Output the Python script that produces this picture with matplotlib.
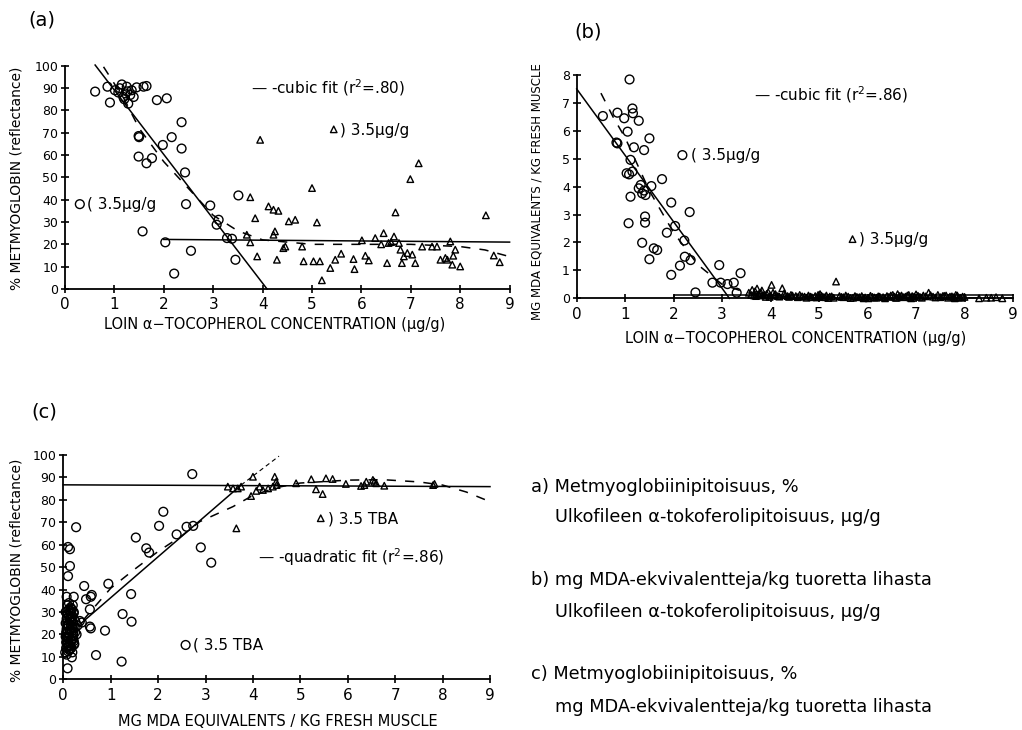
import matplotlib
matplotlib.use("Agg")
import matplotlib.pyplot as plt
import numpy as np

plt.rcParams['font.family'] = ['DejaVu Sans']

# ---------------- Panel (a): % metmyoglobin vs loin alpha-tocopherol ----------------
a_circ_x = [0.61, 0.86, 0.91, 1.15, 1.01, 1.25, 1.35, 1.45, 1.59, 1.65, 1.39, 1.28, 1.18, 1.08,
            1.22, 1.32, 1.11, 1.20, 1.26, 1.86, 2.06, 2.36, 2.16, 1.98, 2.36, 2.43, 1.49, 1.50,
            1.49, 1.65, 1.76, 1.57, 2.03, 2.21, 2.55, 2.45, 2.94, 3.11, 3.07, 3.28, 3.38, 3.51, 3.45]
a_circ_y = [88.4, 90.6, 83.5, 91.6, 89.0, 90.6, 89.0, 90.3, 90.6, 90.9, 86.0, 83.0, 86.0, 88.0,
            87.6, 86.9, 89.9, 85.0, 88.5, 84.6, 85.4, 74.7, 68.0, 64.5, 62.9, 52.2, 68.5, 68.0,
            59.3, 56.3, 58.6, 25.8, 20.9, 6.9, 17.1, 38.0, 37.4, 31.0, 28.8, 22.8, 22.5, 41.9, 13.1]
a_tri_x = [3.95, 3.75, 3.85, 3.68, 3.75, 3.89, 4.12, 4.22, 4.32, 4.22, 4.25, 4.29, 4.42, 4.46,
           4.53, 4.66, 4.80, 4.83, 5.00, 5.03, 5.16, 5.10, 5.20, 5.37, 5.47, 5.59, 5.84, 5.86,
           6.01, 6.08, 6.15, 6.28, 6.45, 6.52, 6.55, 6.66, 6.69, 6.76, 6.79, 6.82, 6.86, 6.93,
           6.99, 7.03, 7.09, 7.16, 7.23, 7.43, 7.53, 7.60, 7.70, 7.74, 7.80, 7.86, 7.90, 7.84,
           8.00, 8.52, 8.68, 8.80, 6.40, 6.60]
a_tri_y = [66.8, 41.1, 31.7, 24.3, 20.9, 14.6, 37.0, 35.5, 35.0, 24.3, 25.8, 13.1, 18.3, 19.0,
           30.3, 31.0, 19.0, 12.4, 45.2, 12.4, 12.4, 29.8, 3.9, 9.4, 13.1, 15.8, 13.4, 8.9,
           21.8, 14.9, 12.8, 22.8, 25.0, 11.6, 20.6, 23.5, 34.3, 20.6, 17.6, 11.6, 14.6, 16.1,
           49.2, 15.4, 11.6, 56.3, 19.0, 19.0, 19.0, 13.1, 13.9, 13.1, 21.3, 14.9, 17.6, 10.9,
           10.1, 33.0, 15.0, 12.0, 20.0, 21.0]
a_lin_x = [0.61, 4.09]
a_lin_y = [100.3, 0.0]
a_flat_x = [2.0, 9.0]
a_flat_y = [22.2, 21.0]
a_cub_x = [0.78, 1.2, 1.5, 2.0, 2.5, 3.0, 3.5, 4.0, 5.0, 6.0, 7.0, 8.0, 8.5, 9.0]
a_cub_y = [99.5, 85.0, 72.0, 57.0, 45.0, 33.0, 26.0, 22.0, 20.0, 20.0, 20.0, 19.0, 17.5, 14.5]

# ---------------- Panel (b): MDA vs loin alpha-tocopherol ----------------
b_circ_x = [0.54, 0.84, 0.98, 1.05, 0.82, 0.84, 1.09, 1.15, 1.16, 1.28, 1.18, 1.39, 1.50, 1.11,
            1.03, 1.08, 1.15, 1.32, 1.39, 1.42, 1.35, 1.28, 1.54, 1.11, 1.76, 1.07, 1.41, 1.41,
            1.35, 1.59, 1.66, 1.50, 1.95, 2.33, 1.86, 2.03, 2.22, 2.23, 2.13, 2.35, 1.95, 2.45,
            2.94, 2.80, 2.97, 3.11, 3.24, 3.38, 3.30]
b_circ_y = [6.53, 6.65, 6.45, 5.97, 5.58, 5.55, 7.84, 6.80, 6.63, 6.36, 5.41, 5.31, 5.73, 4.96,
            4.48, 4.44, 4.54, 4.06, 3.86, 3.70, 3.76, 3.94, 4.02, 3.64, 4.27, 2.69, 2.93, 2.71,
            1.99, 1.79, 1.73, 1.40, 3.43, 3.09, 2.35, 2.59, 2.07, 1.49, 1.17, 1.37, 0.84, 0.21,
            1.19, 0.56, 0.56, 0.51, 0.56, 0.90, 0.20]
b_tri_x = [3.55, 3.62, 3.68, 3.72, 3.78, 3.82, 3.88, 3.95, 4.00, 4.02, 4.10, 4.15, 4.24, 4.30,
           4.38, 4.45, 4.52, 4.60, 4.70, 4.78, 4.85, 4.92, 4.98, 5.02, 5.08, 5.15, 5.22, 5.30,
           5.35, 5.42, 5.50, 5.60, 5.70, 5.78, 5.88, 5.95, 6.02, 6.10, 6.18, 6.25, 6.32, 6.40,
           6.48, 6.55, 6.62, 6.70, 6.78, 6.85, 6.92, 7.00, 7.08, 7.15, 7.26, 7.35, 7.45, 7.55,
           7.62, 7.70, 7.78, 7.85, 7.92, 8.00, 8.30, 8.55, 8.65, 8.78, 3.66, 3.75, 3.90, 4.05,
           5.00, 6.60, 6.90, 7.40, 7.80,
           3.60, 3.70, 3.80, 3.85, 3.92, 3.98, 4.08, 4.18, 4.28, 4.35, 4.42, 4.56, 4.65, 4.74,
           4.82, 4.95, 5.05, 5.12, 5.19, 5.26, 5.46, 5.55, 5.65, 5.74, 5.83, 5.92, 6.06, 6.14,
           6.22, 6.36, 6.44, 6.52, 6.58, 6.66, 6.74, 6.82, 6.88, 6.96, 7.04, 7.12, 7.20, 7.30,
           7.50, 7.58, 7.66, 7.74, 7.82, 7.88, 7.96, 8.45]
b_tri_y = [0.20, 0.30, 0.25, 0.35, 0.18, 0.28, 0.12, 0.22, 0.10, 0.48, 0.15, 0.08, 0.36, 0.12,
           0.05, 0.10, 0.08, 0.12, 0.06, 0.10, 0.04, 0.08, 0.12, 0.15, 0.05, 0.10, 0.06, 0.02,
           0.60, 0.08, 0.04, 0.06, 0.02, 0.05, 0.08, 0.03, 0.00, 0.05, 0.02, 0.06, 0.04, 0.08,
           0.10, 0.06, 0.15, 0.10, 0.06, 0.12, 0.08, 0.14, 0.05, 0.10, 0.20, 0.06, 0.12, 0.08,
           0.10, 0.06, 0.04, 0.10, 0.02, 0.05, 0.00, 0.02, 0.04, 0.00, 0.10, 0.15, 0.05, 0.20,
           0.05, 0.02, 0.00, 0.03, 0.00,
           0.12, 0.08, 0.20, 0.10, 0.16, 0.05, 0.12, 0.06, 0.18, 0.08, 0.12, 0.04, 0.07, 0.02,
           0.06, 0.03, 0.09, 0.04, 0.01, 0.07, 0.05, 0.10, 0.01, 0.08, 0.04, 0.00, 0.09, 0.03,
           0.07, 0.00, 0.05, 0.12, 0.02, 0.08, 0.04, 0.10, 0.03, 0.06, 0.09, 0.02, 0.07, 0.11,
           0.04, 0.09, 0.02, 0.07, 0.12, 0.03, 0.06, 0.02]
b_lin_x = [0.0, 3.15]
b_lin_y = [7.5, 0.0]
b_flat_x = [2.0, 2.0, 9.0]
b_flat_y = [0.0, 0.12, 0.12]
b_cub_x = [0.5, 0.75, 1.0, 1.5, 2.0, 2.5, 3.0, 3.5, 4.0, 5.0, 6.0, 7.0, 8.0, 9.0]
b_cub_y = [7.35, 6.5, 5.75, 3.85, 2.35, 1.2, 0.5, 0.2, 0.1, 0.05, 0.05, 0.05, 0.02, 0.0]

# ---------------- Panel (c): % metmyoglobin vs MDA ----------------
c_circ_x = [0.09, 0.10, 0.14, 0.14, 0.10, 0.27, 0.07, 0.22, 0.44, 0.48, 0.60, 0.58, 0.56, 0.56,
            0.58, 0.69, 0.88, 0.95, 1.23, 1.25, 1.44, 1.43, 1.53, 1.75, 1.81, 2.02, 2.11, 2.39,
            2.60, 2.74, 2.72, 2.90, 3.12, 0.18, 0.39,
            0.04, 0.06, 0.08, 0.10, 0.12, 0.14, 0.16, 0.18, 0.20, 0.22, 0.05, 0.07, 0.09, 0.11,
            0.13, 0.15, 0.17, 0.19, 0.21, 0.24, 0.06, 0.08, 0.10, 0.12, 0.14, 0.16, 0.18, 0.20,
            0.05, 0.09, 0.13, 0.17, 0.21, 0.25, 0.07, 0.11, 0.15, 0.19, 0.23, 0.28, 0.30, 0.35,
            0.06, 0.08, 0.10, 0.12, 0.14, 0.16, 0.18, 0.20, 0.22, 0.07, 0.09, 0.11, 0.13, 0.15,
            0.17, 0.19, 0.21, 0.23, 0.05, 0.10, 0.15, 0.20, 0.12, 0.17, 0.22, 0.25]
c_circ_y = [4.9, 59.0, 58.0, 50.5, 46.0, 67.8, 36.8, 36.8, 41.6, 35.7, 37.6, 36.8, 31.2, 23.5,
            22.7, 10.8, 21.7, 42.6, 7.9, 29.1, 25.7, 38.0, 63.2, 58.4, 56.5, 68.4, 74.7, 64.6,
            68.0, 68.4, 91.5, 58.8, 52.0, 9.8, 25.3,
            12.0, 14.0, 16.0, 18.0, 20.0, 22.0, 24.0, 26.0, 28.0, 30.0, 25.0, 27.0, 29.0, 31.0,
            13.0, 15.0, 17.0, 19.0, 21.0, 23.0, 21.0, 19.0, 17.0, 15.0, 27.0, 29.0, 31.0, 33.0,
            30.0, 33.0, 22.0, 14.0, 18.0, 26.0, 11.0, 24.0, 28.0, 12.0, 16.0, 20.0, 24.0, 26.0,
            16.5, 20.5, 24.5, 28.5, 13.5, 17.5, 21.5, 25.5, 29.5, 22.5, 18.5, 14.5, 26.5, 30.5,
            27.5, 23.5, 19.5, 15.5, 19.0, 12.5, 32.0, 23.0, 34.0, 31.5, 17.0, 21.0]
c_tri_x = [3.65, 3.47, 3.58, 3.68, 3.75, 4.00, 3.96, 4.07, 4.14, 4.21, 4.32, 4.42, 4.46, 4.49,
           4.50, 4.91, 5.23, 5.33, 5.47, 5.54, 5.68, 5.96, 6.28, 6.35, 6.39, 6.53, 6.56, 6.60,
           6.77, 7.80, 7.83]
c_tri_y = [67.3, 85.9, 85.1, 85.1, 85.9, 90.3, 81.7, 84.0, 85.9, 84.4, 85.1, 85.9, 90.3, 88.1,
           86.6, 87.4, 89.2, 84.7, 82.6, 89.6, 89.3, 87.1, 86.2, 86.6, 88.1, 88.9, 88.1, 87.4,
           86.3, 86.6, 87.1]
c_lin_x = [0.35, 3.75]
c_lin_y = [24.5, 86.6]
c_ext_x = [3.75, 4.55]
c_ext_y = [86.6, 99.5]
c_flat_x = [0.0, 9.0]
c_flat_y = [86.7, 85.9]
c_quad_x = [0.42, 1.0, 1.5, 2.0, 2.5, 2.88, 3.58, 4.0, 4.5, 5.0, 6.0, 6.74, 7.5, 8.0, 8.5, 9.0]
c_quad_y = [26.4, 40.6, 49.0, 57.0, 64.0, 70.3, 77.0, 82.0, 85.5, 87.5, 88.8, 89.0, 88.0, 86.6, 83.5, 79.2]

xticks = list(range(0, 10))

W, H = 1022, 730
fig = plt.figure(figsize=(W / 100, H / 100), dpi=100)


def fx(px):
    return px / W


def fy(py):
    return 1 - py / H


def style(ax, yticks, ylim):
    ax.set_xlim(0, 9)
    ax.set_ylim(*ylim)
    ax.spines['top'].set_visible(False)
    ax.spines['right'].set_visible(False)
    ax.spines['left'].set_linewidth(1.3)
    ax.spines['bottom'].set_linewidth(1.3)
    ax.set_xticks(xticks)
    ax.set_yticks(yticks)
    ax.tick_params(axis='both', direction='inout', length=6, width=1.2, color='black')
    ax.tick_params(axis='x', labelsize=11, pad=3)
    ax.tick_params(axis='y', labelsize=9, pad=2)
    ax.patch.set_alpha(0)


circ_kw = dict(marker='o', s=40, facecolors='none', edgecolors='black', linewidths=1.0, clip_on=False, zorder=3)
tri_kw = dict(marker='^', s=22, facecolors='none', edgecolors='black', linewidths=1.0, clip_on=False, zorder=3)
line_kw = dict(color='black', lw=1.1, clip_on=False, zorder=2)
dash_kw = dict(color='black', lw=1.1, dashes=(6, 6), clip_on=False, zorder=2)
txt_kw = dict(fontsize=11, va='center', ha='left', color='black')

# ---- (a)
axa = fig.add_axes([fx(65), fy(289), fx(509.6) - fx(65), fy(65.7) - fy(289)])
style(axa, list(range(0, 101, 10)), (0, 100))
axa.scatter(a_circ_x, a_circ_y, **circ_kw)
axa.scatter(a_tri_x, a_tri_y, **tri_kw)
axa.plot(a_lin_x, a_lin_y, **line_kw)
axa.plot(a_flat_x, a_flat_y, **line_kw)
axa.plot(a_cub_x, a_cub_y, **dash_kw)
axa.text(3.76, 90, "— -cubic fit (r$^2$=.80)", **txt_kw)
axa.scatter([5.44], [71.5], **tri_kw)
axa.text(5.57, 71, ") 3.5µg/g", **txt_kw)
axa.scatter([0.30], [38], **circ_kw)
axa.text(0.45, 38, "( 3.5µg/g", **txt_kw)

# ---- (b)
axb = fig.add_axes([fx(576.7), fy(298.3), fx(1013) - fx(576.7), fy(75) - fy(298.3)])
style(axb, list(range(0, 9)), (0, 8))
axb.scatter(b_circ_x, b_circ_y, **circ_kw)
axb.scatter(b_tri_x, b_tri_y, **tri_kw)
axb.plot(b_lin_x, b_lin_y, **line_kw)
axb.plot(b_flat_x, b_flat_y, **line_kw)
axb.plot(b_cub_x, b_cub_y, **dash_kw)
axb.text(3.66, 7.28, "— -cubic fit (r$^2$=.86)", **txt_kw)
axb.scatter([2.18], [5.13], **circ_kw)
axb.text(2.35, 5.13, "( 3.5µg/g", **txt_kw)
axb.scatter([5.69], [2.12], **tri_kw)
axb.text(5.83, 2.09, ") 3.5µg/g", **txt_kw)

# ---- (c)
axc = fig.add_axes([fx(63.3), fy(679.3), fx(490) - fx(63.3), fy(455) - fy(679.3)])
style(axc, list(range(0, 101, 10)), (0, 100))
axc.scatter(c_circ_x, c_circ_y, **circ_kw)
axc.scatter(c_tri_x, c_tri_y, **tri_kw)
axc.plot(c_lin_x, c_lin_y, **line_kw)
axc.plot(c_ext_x, c_ext_y, color='black', lw=0.8, dashes=(4, 3), clip_on=False)
axc.plot(c_flat_x, c_flat_y, **line_kw)
axc.plot(c_quad_x, c_quad_y, **dash_kw)
axc.scatter([5.43], [71.8], **tri_kw)
axc.text(5.59, 71.3, ") 3.5 TBA", **txt_kw)
axc.text(4.11, 54.4, "— -quadratic fit (r$^2$=.86)", **txt_kw)
axc.scatter([2.58], [15.3], **circ_kw)
axc.text(2.74, 15.3, "( 3.5 TBA", **txt_kw)

# ---- axis labels
fig.text(fx(275), fy(325), "LOIN α−TOCOPHEROL CONCENTRATION (µg/g)", fontsize=10.5, ha='center', va='center')
fig.text(fx(796), fy(338), "LOIN α−TOCOPHEROL CONCENTRATION (µg/g)", fontsize=10.5, ha='center', va='center')
fig.text(fx(278), fy(722), "MG MDA EQUIVALENTS / KG FRESH MUSCLE", fontsize=10.5, ha='center', va='center')
fig.text(fx(17), fy(178), "% METMYOGLOBIN (reflectance)", fontsize=10, rotation=90, ha='center', va='center')
fig.text(fx(17), fy(570), "% METMYOGLOBIN (reflectance)", fontsize=10, rotation=90, ha='center', va='center')
fig.text(fx(537), fy(192), "MG MDA EQUIVALENTS / KG FRESH MUSCLE", fontsize=8.5, rotation=90, ha='center', va='center')

# ---- panel labels
fig.text(fx(42), fy(20), "(a)", fontsize=14, ha='center', va='center')
fig.text(fx(588), fy(32), "(b)", fontsize=14, ha='center', va='center')
fig.text(fx(44), fy(412), "(c)", fontsize=14, ha='center', va='center')

# ---- Finnish explanation text
fin_kw = dict(fontsize=12.8, family='DejaVu Sans', ha='left', va='center')
fig.text(fx(531), fy(487), "a) Metmyoglobiinipitoisuus, %", **fin_kw)
fig.text(fx(555), fy(517), "Ulkofileen α-tokoferolipitoisuus, µg/g", **fin_kw)
fig.text(fx(531), fy(580), "b) mg MDA-ekvivalentteja/kg tuoretta lihasta", **fin_kw)
fig.text(fx(555), fy(612), "Ulkofileen α-tokoferolipitoisuus, µg/g", **fin_kw)
fig.text(fx(531), fy(674), "c) Metmyoglobiinipitoisuus, %", **fin_kw)
fig.text(fx(555), fy(707), "mg MDA-ekvivalentteja/kg tuoretta lihasta", **fin_kw)

fig.savefig("out.png", dpi=100)
